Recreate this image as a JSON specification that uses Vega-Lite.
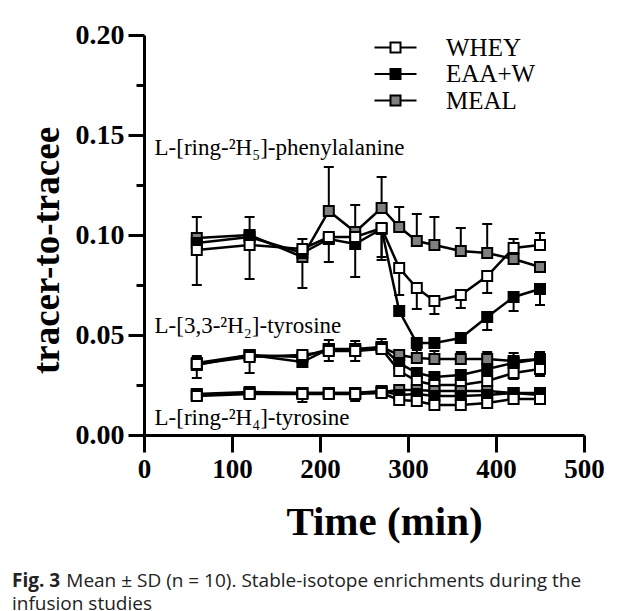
{
  "$schema": "https://vega.github.io/schema/vega-lite/v6.json",
  "width": 440,
  "height": 400,
  "autosize": {"type": "none"},
  "padding": {"left": 144, "top": 35, "right": 41, "bottom": 176},
  "background": "white",
  "title": {
    "text": "Fig. 3",
    "subtitle": ["\u200b\u00a0\u00a0\u00a0\u00a0\u00a0\u00a0\u00a0\u00a0\u00a0\u00a0\u00a0Mean ± SD (n = 10). Stable-isotope enrichments during the", "infusion studies"],
    "orient": "bottom",
    "anchor": "start",
    "frame": "group",
    "dx": -132,
    "offset": 30,
    "font": "Open Sans",
    "fontSize": 19,
    "fontWeight": "bold",
    "color": "#222222",
    "subtitleFont": "Open Sans",
    "subtitleFontSize": 19,
    "subtitleFontWeight": "normal",
    "subtitleColor": "#222222",
    "subtitleLineHeight": 23,
    "subtitlePadding": -19
  },
  "datasets": {
    "pts": [
      {"g": "phe", "s": "MEAL", "t": 60, "v": 0.0985}, {"g": "phe", "s": "MEAL", "t": 120, "v": 0.1}, {"g": "phe", "s": "MEAL", "t": 180, "v": 0.089}, {"g": "phe", "s": "MEAL", "t": 210, "v": 0.112}, {"g": "phe", "s": "MEAL", "t": 240, "v": 0.1015}, {"g": "phe", "s": "MEAL", "t": 270, "v": 0.1135}, {"g": "phe", "s": "MEAL", "t": 290, "v": 0.104}, {"g": "phe", "s": "MEAL", "t": 310, "v": 0.097}, {"g": "phe", "s": "MEAL", "t": 330, "v": 0.095}, {"g": "phe", "s": "MEAL", "t": 360, "v": 0.092}, {"g": "phe", "s": "MEAL", "t": 390, "v": 0.091}, {"g": "phe", "s": "MEAL", "t": 420, "v": 0.088}, {"g": "phe", "s": "MEAL", "t": 450, "v": 0.084},
      {"g": "phe", "s": "EAA+W", "t": 60, "v": 0.096}, {"g": "phe", "s": "EAA+W", "t": 120, "v": 0.099}, {"g": "phe", "s": "EAA+W", "t": 180, "v": 0.091}, {"g": "phe", "s": "EAA+W", "t": 210, "v": 0.098}, {"g": "phe", "s": "EAA+W", "t": 240, "v": 0.0955}, {"g": "phe", "s": "EAA+W", "t": 270, "v": 0.103}, {"g": "phe", "s": "EAA+W", "t": 290, "v": 0.062}, {"g": "phe", "s": "EAA+W", "t": 310, "v": 0.046}, {"g": "phe", "s": "EAA+W", "t": 330, "v": 0.046}, {"g": "phe", "s": "EAA+W", "t": 360, "v": 0.0485}, {"g": "phe", "s": "EAA+W", "t": 390, "v": 0.059}, {"g": "phe", "s": "EAA+W", "t": 420, "v": 0.069}, {"g": "phe", "s": "EAA+W", "t": 450, "v": 0.073},
      {"g": "phe", "s": "WHEY", "t": 60, "v": 0.0925}, {"g": "phe", "s": "WHEY", "t": 120, "v": 0.095}, {"g": "phe", "s": "WHEY", "t": 180, "v": 0.093}, {"g": "phe", "s": "WHEY", "t": 210, "v": 0.099}, {"g": "phe", "s": "WHEY", "t": 240, "v": 0.099}, {"g": "phe", "s": "WHEY", "t": 270, "v": 0.1035}, {"g": "phe", "s": "WHEY", "t": 290, "v": 0.0835}, {"g": "phe", "s": "WHEY", "t": 310, "v": 0.0735}, {"g": "phe", "s": "WHEY", "t": 330, "v": 0.067}, {"g": "phe", "s": "WHEY", "t": 360, "v": 0.07}, {"g": "phe", "s": "WHEY", "t": 390, "v": 0.0795}, {"g": "phe", "s": "WHEY", "t": 420, "v": 0.0935}, {"g": "phe", "s": "WHEY", "t": 450, "v": 0.095},
      {"g": "t33", "s": "MEAL", "t": 60, "v": 0.035}, {"g": "t33", "s": "MEAL", "t": 120, "v": 0.04}, {"g": "t33", "s": "MEAL", "t": 180, "v": 0.039}, {"g": "t33", "s": "MEAL", "t": 210, "v": 0.043}, {"g": "t33", "s": "MEAL", "t": 240, "v": 0.043}, {"g": "t33", "s": "MEAL", "t": 270, "v": 0.044}, {"g": "t33", "s": "MEAL", "t": 290, "v": 0.04}, {"g": "t33", "s": "MEAL", "t": 310, "v": 0.0385}, {"g": "t33", "s": "MEAL", "t": 330, "v": 0.038}, {"g": "t33", "s": "MEAL", "t": 360, "v": 0.038}, {"g": "t33", "s": "MEAL", "t": 390, "v": 0.038}, {"g": "t33", "s": "MEAL", "t": 420, "v": 0.037}, {"g": "t33", "s": "MEAL", "t": 450, "v": 0.038},
      {"g": "t33", "s": "EAA+W", "t": 60, "v": 0.036}, {"g": "t33", "s": "EAA+W", "t": 120, "v": 0.04}, {"g": "t33", "s": "EAA+W", "t": 180, "v": 0.0365}, {"g": "t33", "s": "EAA+W", "t": 210, "v": 0.043}, {"g": "t33", "s": "EAA+W", "t": 240, "v": 0.042}, {"g": "t33", "s": "EAA+W", "t": 270, "v": 0.044}, {"g": "t33", "s": "EAA+W", "t": 290, "v": 0.036}, {"g": "t33", "s": "EAA+W", "t": 310, "v": 0.031}, {"g": "t33", "s": "EAA+W", "t": 330, "v": 0.029}, {"g": "t33", "s": "EAA+W", "t": 360, "v": 0.03}, {"g": "t33", "s": "EAA+W", "t": 390, "v": 0.033}, {"g": "t33", "s": "EAA+W", "t": 420, "v": 0.036}, {"g": "t33", "s": "EAA+W", "t": 450, "v": 0.038},
      {"g": "t33", "s": "WHEY", "t": 60, "v": 0.0355}, {"g": "t33", "s": "WHEY", "t": 120, "v": 0.039}, {"g": "t33", "s": "WHEY", "t": 180, "v": 0.04}, {"g": "t33", "s": "WHEY", "t": 210, "v": 0.042}, {"g": "t33", "s": "WHEY", "t": 240, "v": 0.042}, {"g": "t33", "s": "WHEY", "t": 270, "v": 0.043}, {"g": "t33", "s": "WHEY", "t": 290, "v": 0.032}, {"g": "t33", "s": "WHEY", "t": 310, "v": 0.027}, {"g": "t33", "s": "WHEY", "t": 330, "v": 0.025}, {"g": "t33", "s": "WHEY", "t": 360, "v": 0.025}, {"g": "t33", "s": "WHEY", "t": 390, "v": 0.027}, {"g": "t33", "s": "WHEY", "t": 420, "v": 0.031}, {"g": "t33", "s": "WHEY", "t": 450, "v": 0.033},
      {"g": "t4", "s": "MEAL", "t": 60, "v": 0.02}, {"g": "t4", "s": "MEAL", "t": 120, "v": 0.021}, {"g": "t4", "s": "MEAL", "t": 180, "v": 0.021}, {"g": "t4", "s": "MEAL", "t": 210, "v": 0.021}, {"g": "t4", "s": "MEAL", "t": 240, "v": 0.021}, {"g": "t4", "s": "MEAL", "t": 270, "v": 0.0215}, {"g": "t4", "s": "MEAL", "t": 290, "v": 0.0225}, {"g": "t4", "s": "MEAL", "t": 310, "v": 0.0225}, {"g": "t4", "s": "MEAL", "t": 330, "v": 0.022}, {"g": "t4", "s": "MEAL", "t": 360, "v": 0.022}, {"g": "t4", "s": "MEAL", "t": 390, "v": 0.022}, {"g": "t4", "s": "MEAL", "t": 420, "v": 0.021}, {"g": "t4", "s": "MEAL", "t": 450, "v": 0.02},
      {"g": "t4", "s": "EAA+W", "t": 60, "v": 0.0205}, {"g": "t4", "s": "EAA+W", "t": 120, "v": 0.0215}, {"g": "t4", "s": "EAA+W", "t": 180, "v": 0.021}, {"g": "t4", "s": "EAA+W", "t": 210, "v": 0.021}, {"g": "t4", "s": "EAA+W", "t": 240, "v": 0.021}, {"g": "t4", "s": "EAA+W", "t": 270, "v": 0.022}, {"g": "t4", "s": "EAA+W", "t": 290, "v": 0.02}, {"g": "t4", "s": "EAA+W", "t": 310, "v": 0.0205}, {"g": "t4", "s": "EAA+W", "t": 330, "v": 0.0195}, {"g": "t4", "s": "EAA+W", "t": 360, "v": 0.0195}, {"g": "t4", "s": "EAA+W", "t": 390, "v": 0.02}, {"g": "t4", "s": "EAA+W", "t": 420, "v": 0.021}, {"g": "t4", "s": "EAA+W", "t": 450, "v": 0.021},
      {"g": "t4", "s": "WHEY", "t": 60, "v": 0.0195}, {"g": "t4", "s": "WHEY", "t": 120, "v": 0.0205}, {"g": "t4", "s": "WHEY", "t": 180, "v": 0.0205}, {"g": "t4", "s": "WHEY", "t": 210, "v": 0.0205}, {"g": "t4", "s": "WHEY", "t": 240, "v": 0.0205}, {"g": "t4", "s": "WHEY", "t": 270, "v": 0.021}, {"g": "t4", "s": "WHEY", "t": 290, "v": 0.0175}, {"g": "t4", "s": "WHEY", "t": 310, "v": 0.017}, {"g": "t4", "s": "WHEY", "t": 330, "v": 0.015}, {"g": "t4", "s": "WHEY", "t": 360, "v": 0.015}, {"g": "t4", "s": "WHEY", "t": 390, "v": 0.016}, {"g": "t4", "s": "WHEY", "t": 420, "v": 0.018}, {"g": "t4", "s": "WHEY", "t": 450, "v": 0.018}
    ],
    "err": [
      {"g": "phe", "s": "EAA+W", "t": 60, "lo": 0.075, "hi": 0.096}, {"g": "phe", "s": "MEAL", "t": 60, "lo": 0.0985, "hi": 0.109},
      {"g": "phe", "s": "MEAL", "t": 120, "lo": 0.1, "hi": 0.109}, {"g": "phe", "s": "WHEY", "t": 120, "lo": 0.078, "hi": 0.095},
      {"g": "phe", "s": "WHEY", "t": 180, "lo": 0.093, "hi": 0.098}, {"g": "phe", "s": "EAA+W", "t": 180, "lo": 0.0735, "hi": 0.091},
      {"g": "phe", "s": "MEAL", "t": 210, "lo": 0.112, "hi": 0.134}, {"g": "phe", "s": "EAA+W", "t": 210, "lo": 0.0865, "hi": 0.098},
      {"g": "phe", "s": "MEAL", "t": 240, "lo": 0.1015, "hi": 0.115}, {"g": "phe", "s": "EAA+W", "t": 240, "lo": 0.079, "hi": 0.0955},
      {"g": "phe", "s": "MEAL", "t": 270, "lo": 0.1135, "hi": 0.129}, {"g": "phe", "s": "WHEY", "t": 270, "lo": 0.0875, "hi": 0.1035}, {"g": "phe", "s": "EAA+W", "t": 270, "lo": 0.089, "hi": 0.103},
      {"g": "phe", "s": "MEAL", "t": 290, "lo": 0.104, "hi": 0.114}, {"g": "phe", "s": "WHEY", "t": 290, "lo": 0.07, "hi": 0.0835},
      {"g": "phe", "s": "MEAL", "t": 310, "lo": 0.097, "hi": 0.1105}, {"g": "phe", "s": "WHEY", "t": 310, "lo": 0.063, "hi": 0.0735},
      {"g": "phe", "s": "MEAL", "t": 330, "lo": 0.095, "hi": 0.109}, {"g": "phe", "s": "WHEY", "t": 330, "lo": 0.0605, "hi": 0.067},
      {"g": "phe", "s": "MEAL", "t": 360, "lo": 0.092, "hi": 0.1035}, {"g": "phe", "s": "WHEY", "t": 360, "lo": 0.0635, "hi": 0.07},
      {"g": "phe", "s": "MEAL", "t": 390, "lo": 0.091, "hi": 0.1055}, {"g": "phe", "s": "WHEY", "t": 390, "lo": 0.071, "hi": 0.0795}, {"g": "phe", "s": "EAA+W", "t": 390, "lo": 0.0525, "hi": 0.059},
      {"g": "phe", "s": "MEAL", "t": 420, "lo": 0.088, "hi": 0.098}, {"g": "phe", "s": "EAA+W", "t": 420, "lo": 0.062, "hi": 0.069},
      {"g": "phe", "s": "WHEY", "t": 450, "lo": 0.095, "hi": 0.101}, {"g": "phe", "s": "EAA+W", "t": 450, "lo": 0.065, "hi": 0.073},
      {"g": "t33", "s": "WHEY", "t": 60, "lo": 0.0285, "hi": 0.0395}, {"g": "t33", "s": "WHEY", "t": 120, "lo": 0.031, "hi": 0.039},
      {"g": "t33", "s": "WHEY", "t": 210, "lo": 0.037, "hi": 0.0475}, {"g": "t33", "s": "WHEY", "t": 240, "lo": 0.037, "hi": 0.047},
      {"g": "t33", "s": "MEAL", "t": 270, "lo": 0.044, "hi": 0.048},
      {"g": "t33", "s": "MEAL", "t": 310, "lo": 0.0385, "hi": 0.0425}, {"g": "t33", "s": "MEAL", "t": 330, "lo": 0.038, "hi": 0.042}, {"g": "t33", "s": "MEAL", "t": 360, "lo": 0.038, "hi": 0.0415}, {"g": "t33", "s": "MEAL", "t": 390, "lo": 0.038, "hi": 0.0415}, {"g": "t33", "s": "MEAL", "t": 420, "lo": 0.037, "hi": 0.041}, {"g": "t33", "s": "MEAL", "t": 450, "lo": 0.038, "hi": 0.0415},
      {"g": "t33", "s": "WHEY", "t": 310, "lo": 0.024, "hi": 0.027}, {"g": "t33", "s": "WHEY", "t": 330, "lo": 0.022, "hi": 0.025}, {"g": "t33", "s": "WHEY", "t": 420, "lo": 0.028, "hi": 0.031}, {"g": "t33", "s": "WHEY", "t": 450, "lo": 0.0295, "hi": 0.033},
      {"g": "t4", "s": "WHEY", "t": 180, "lo": 0.0165, "hi": 0.0205}, {"g": "t4", "s": "WHEY", "t": 240, "lo": 0.017, "hi": 0.0205},
      {"g": "t4", "s": "EAA+W", "t": 310, "lo": 0.0205, "hi": 0.024}, {"g": "t4", "s": "EAA+W", "t": 330, "lo": 0.0195, "hi": 0.023}, {"g": "t4", "s": "EAA+W", "t": 390, "lo": 0.02, "hi": 0.0235}
    ],
    "labels": [
      {"t": 12, "v": 0.1435, "label": "L-[ring-²H₅]-phenylalanine"},
      {"t": 12, "v": 0.0545, "label": "L-[3,3-²H₂]-tyrosine"},
      {"t": 12, "v": 0.0085, "label": "L-[ring-²H₄]-tyrosine"}
    ]
  },
  "layer": [
    {
      "data": {"name": "err"},
      "mark": {"type": "rule", "strokeWidth": 2, "color": "black"},
      "encoding": {
        "x": {"field": "t", "type": "quantitative", "scale": {"domain": [0, 500], "nice": false},
          "axis": {"values": [0, 100, 200, 300, 400, 500], "title": "Time (min)", "grid": false, "labelFlush": false,
            "domainWidth": 3, "domainColor": "black", "tickWidth": 3, "tickColor": "black", "tickSize": 17,
            "labelFont": "Liberation Serif", "labelFontSize": 27, "labelFontWeight": "bold", "labelColor": "black", "labelPadding": 4,
            "titleFont": "Liberation Serif", "titleFontSize": 41, "titleFontWeight": "bold", "titleColor": "black",
            "titleX": 240, "titleY": 99, "titleAlign": "center", "titleBaseline": "alphabetic"}},
        "y": {"field": "lo", "type": "quantitative", "scale": {"domain": [0, 0.2], "nice": false},
          "axis": {"orient": "left", "values": [0, 0.025, 0.05, 0.075, 0.1, 0.125, 0.15, 0.175, 0.2],
            "labelExpr": "round(datum.value * 1000) % 50 == 0 ? format(datum.value, '.2f') : ''",
            "title": "tracer-to-tracee", "grid": false,
            "domainWidth": 3, "domainColor": "black", "tickWidth": 3, "tickColor": "black",
            "tickSize": {"condition": {"test": "round(datum.value * 1000) % 50 == 0", "value": 16}, "value": 8},
            "labelFont": "Liberation Serif", "labelFontSize": 28, "labelFontWeight": "bold", "labelColor": "black", "labelPadding": 4,
            "titleFont": "Liberation Serif", "titleFontSize": 37, "titleFontWeight": "bold", "titleColor": "black",
            "titleX": -97, "titleY": 215, "titleAngle": -90, "titleAlign": "center", "titleBaseline": "middle"}},
        "y2": {"field": "hi"}
      }
    },
    {
      "data": {"name": "err"},
      "transform": [{"fold": ["lo", "hi"], "as": ["k", "val"]}],
      "mark": {"type": "tick", "orient": "horizontal", "size": 10, "thickness": 2, "color": "black", "opacity": 1},
      "encoding": {
        "x": {"field": "t", "type": "quantitative"},
        "y": {"field": "val", "type": "quantitative", "axis": null}
      }
    },
    {
      "data": {"name": "pts"},
      "mark": {"type": "line", "color": "black", "strokeWidth": 2.5},
      "encoding": {
        "x": {"field": "t", "type": "quantitative"},
        "y": {"field": "v", "type": "quantitative", "axis": null},
        "detail": [{"field": "g"}, {"field": "s"}],
        "order": {"field": "t"}
      }
    },
    {
      "data": {"name": "pts"},
      "mark": {"type": "square", "size": 100, "stroke": "black", "strokeWidth": 2, "opacity": 1, "fillOpacity": 1},
      "encoding": {
        "x": {"field": "t", "type": "quantitative"},
        "y": {"field": "v", "type": "quantitative", "axis": null},
        "fill": {"field": "s", "type": "nominal", "sort": ["WHEY", "EAA+W", "MEAL"],
          "scale": {"domain": ["WHEY", "EAA+W", "MEAL"], "range": ["#ffffff", "#000000", "#808080"]},
          "legend": {"orient": "none", "legendX": 239, "legendY": 0, "title": null,
            "symbolType": "M -2.1 0 H -0.5 M 0.5 0 H 2.1 M -0.5 -0.5 H 0.5 V 0.5 H -0.5 Z",
            "symbolSize": 400, "symbolStrokeColor": "black", "symbolStrokeWidth": 2, "symbolOpacity": 1,
            "labelFont": "Liberation Serif", "labelFontSize": 25, "labelColor": "black", "labelOffset": 38, "rowPadding": 0.5}}
      }
    },
    {
      "data": {"name": "labels"},
      "mark": {"type": "text", "align": "left", "baseline": "middle", "font": "Liberation Serif", "fontSize": 23, "color": "black"},
      "encoding": {
        "x": {"field": "t", "type": "quantitative"},
        "y": {"field": "v", "type": "quantitative", "axis": null},
        "text": {"field": "label"}
      }
    }
  ],
  "resolve": {"axis": {"y": "independent"}},
  "config": {"view": {"stroke": null}}
}
